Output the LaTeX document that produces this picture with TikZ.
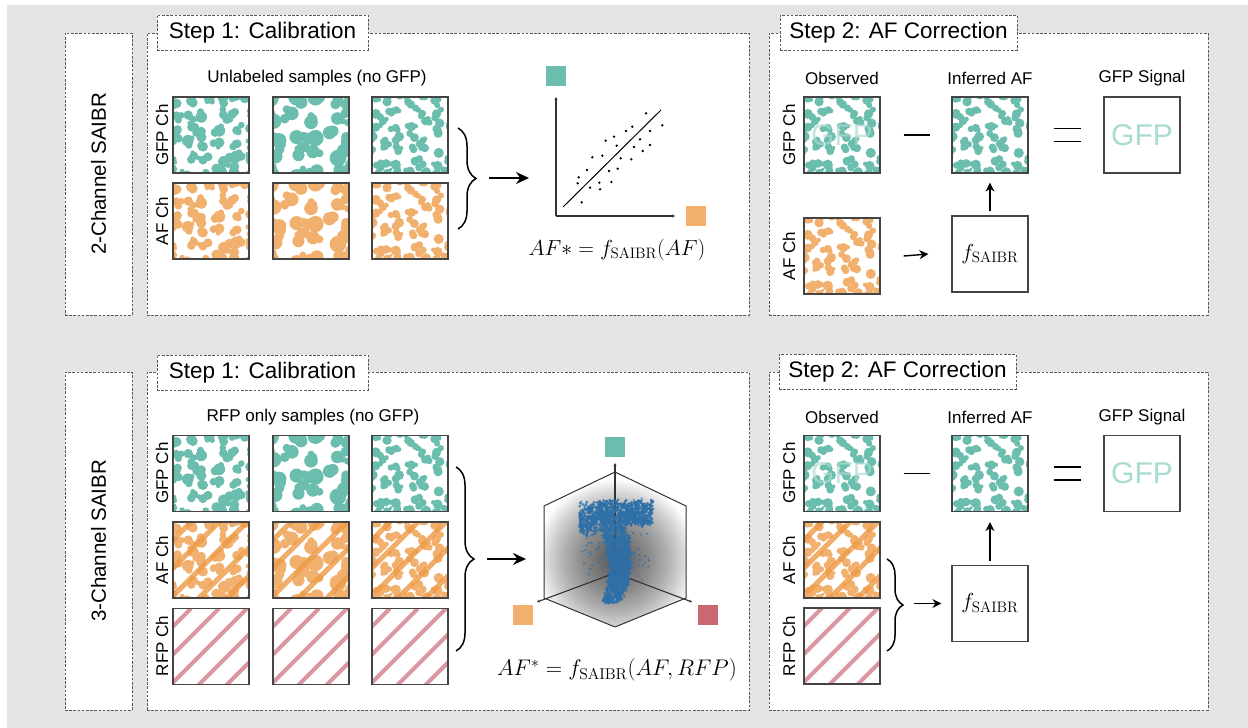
\documentclass[tikz,border=0pt]{standalone}
\usepackage[no-math]{fontspec}
\setmainfont{Liberation Sans}
\usetikzlibrary{decorations.pathreplacing,arrows.meta}

\definecolor{gfpc}{HTML}{6BBDAE}
\definecolor{afc}{HTML}{F2B06E}
\definecolor{afs}{HTML}{EE9A45}
\definecolor{rfpc}{HTML}{CC6670}
\definecolor{rfps}{HTML}{DB97A1}
\definecolor{ghost}{HTML}{A8DCD2}
\definecolor{bgc}{HTML}{E4E4E4}
\definecolor{dashc}{HTML}{5A5A5A}
\definecolor{framec}{HTML}{444444}
\definecolor{dotc}{HTML}{2D6FA8}
\definecolor{axc}{HTML}{333333}

% irregular cell blobs inside a 76pt tile
\newcommand{\cellblobs}[6]{% centre x, centre y, colour, seed, grid count, blob radius
  \begin{scope}
    \clip (#1-38,#2-38) rectangle (#1+38,#2+38);
    \pgfmathsetseed{#4}
    \pgfmathsetmacro{\bstep}{76/#5}
    \foreach \i in {0,...,#5}{
      \foreach \j in {0,...,#5}{
        \pgfmathsetmacro{\bx}{#1-38+(\i-0.15+0.6*rnd)*\bstep}
        \pgfmathsetmacro{\by}{#2-38+(\j-0.15+0.6*rnd)*\bstep}
        \pgfmathsetmacro{\ra}{#6*(0.75+0.4*rnd)}
        \pgfmathsetmacro{\rb}{#6*(0.55+0.4*rnd)}
        \pgfmathsetmacro{\rc}{#6*(0.4+0.3*rnd)}
        \pgfmathsetmacro{\dx}{1.1*#6*rand}
        \pgfmathsetmacro{\dy}{1.1*#6*rand}
        \pgfmathsetmacro{\ex}{1.0*#6*rand}
        \pgfmathsetmacro{\ey}{1.0*#6*rand}
        \fill[#3] (\bx,\by) circle[radius=\ra] (\bx+\dx,\by+\dy) circle[radius=\rb]
                  (\bx+\ex,\by+\ey) circle[radius=\rc];
      }
    }
  \end{scope}}

% diagonal stripes inside a 76pt tile
\newcommand{\diagstripes}[4]{% centre x, centre y, colour options, width
  \begin{scope}
    \clip (#1-38,#2-38) rectangle (#1+38,#2+38);
    \foreach \s in {18,46,...,158}{
      \draw[#3, line width=#4] (#1-38+\s,#2-38) -- ++(-100,100);
    }
  \end{scope}}

% faint channel text laid over an observed GFP tile
\newcommand{\ghosttext}[2]{%
  \node[text=gfpc!55!white, opacity=0.7, font=\fontsize{30}{30}\selectfont] at (#1,#2) {GFP};}

\begin{document}
\begin{tikzpicture}[x=1pt,y=-1pt,
  panel/.style={draw=dashc, dash pattern=on 2.6pt off 1.6pt, line width=0.9pt, fill=white, inner sep=0pt},
  titlebox/.style={panel, font=\fontsize{22.5}{27}\selectfont, minimum height=35pt, inner sep=0pt},
  tile/.style={draw=framec, line width=1.2pt, minimum size=76pt, inner sep=0pt},
  hdr/.style={font=\fontsize{17}{20}\selectfont},
  chlab/.style={font=\fontsize{17}{20}\selectfont, rotate=90},
  sidelab/.style={font=\fontsize{20.5}{24}\selectfont, rotate=90},
  eqn/.style={font=\fontsize{20.74}{25}\selectfont, scale=1.05},
  bigeqn/.style={font=\fontsize{20.74}{25}\selectfont, scale=1.05},
  widereqn/.style={font=\fontsize{20.74}{25}\selectfont, scale=1.09},
  bigarr/.style={-{Stealth[length=13pt,width=12pt]}, line width=2pt},
  smallarr/.style={-{Stealth[length=9pt,width=9pt]}, line width=1.4pt},
  curly/.style={decorate, decoration={brace, amplitude=18pt}, line width=1.5pt},
  axis/.style={draw=axc, line width=1.1pt, -{Stealth[length=3pt,width=3pt]}},
  swatch/.style={minimum size=20pt, inner sep=0pt},
  dot/.style={fill=black},
  pt3/.style={fill=dotc, opacity=0.85},
]
\useasboundingbox (0,0) rectangle (1248,728);
\fill[bgc] (7,5) rectangle (1248,728);

% ---------------- row frames ----------------
\node[panel, minimum width=67pt, minimum height=282pt] (side2) at (98.5,174) {};
\node[sidelab] at (side2.center) {2-Channel SAIBR};
\node[panel, minimum width=67pt, minimum height=338pt] (side3) at (98.5,541) {};
\node[sidelab] at (side3.center) {3-Channel SAIBR};

\node[panel, minimum width=602pt, minimum height=282pt] (cal2) at (448,174) {};
\node[panel, minimum width=439pt, minimum height=282pt] (cor2) at (988.5,174) {};
\node[panel, minimum width=602pt, minimum height=338pt] (cal3) at (448,541) {};
\node[panel, minimum width=439pt, minimum height=338pt] (cor3) at (988.5,541) {};

\node[titlebox, minimum width=211pt] (ttl1) at (262.5,32.5) {Step 1: Calibration};
\node[titlebox, minimum width=237pt] (ttl2) at (898.5,32.5) {Step 2: AF Correction};
\node[titlebox, minimum width=211pt] (ttl3) at (262.5,372.5) {Step 1: Calibration};
\node[titlebox, minimum width=237pt] (ttl4) at (897.5,371.5) {Step 2: AF Correction};

% ---------------- 2-channel calibration ----------------
\node[hdr] (hu) at (317,78) {Unlabeled samples (no GFP)};
\node[chlab] at (162,135) {GFP Ch};
\node[chlab] at (162,221) {AF Ch};

\cellblobs{211}{135}{gfpc}{11}{5}{5.4}
\cellblobs{211}{221}{afc}{11}{5}{5.4}
\cellblobs{311}{135}{gfpc}{23}{4}{7.4}
\cellblobs{311}{221}{afc}{23}{4}{7.4}
\cellblobs{410}{135}{gfpc}{37}{6}{4.5}
\cellblobs{410}{221}{afc}{37}{6}{4.5}
\node[tile] (a11) at (211,135) {};
\node[tile] (a21) at (211,221) {};
\node[tile] (a12) at (311,135) {};
\node[tile] (a22) at (311,221) {};
\node[tile] (a13) at (410,135) {};
\node[tile] (a23) at (410,221) {};

\coordinate (b1s) at (458,128);
\coordinate (b1e) at (458,229);
\draw[curly] (b1s) -- (b1e);
\coordinate (r1s) at (489,178);
\coordinate (r1e) at (529,178);
\draw[bigarr] (r1s) -- (r1e);

% scatter plot
\coordinate (o2d) at (556,216);
\coordinate (y2d) at (556,97);
\coordinate (x2d) at (675,216);
\draw[axis] (o2d) -- (y2d);
\draw[axis] (o2d) -- (x2d);
\node[swatch, fill=gfpc] (sqg1) at (556,76) {};
\node[swatch, fill=afc] (sqa1) at (695.5,216) {};
\coordinate (fitA) at (563,207);
\coordinate (fitB) at (661,110);
\draw[line width=1pt, black] (fitA) -- (fitB);
\foreach \p in {(646.0,113.3),(662.3,125.3),(632.3,126.7),(626.0,131.0),(650.0,131.0),
  (614.0,136.7),(605.7,140.7),(640.0,139.3),(616.7,145.7),(634.0,147.0),(650.0,145.0),
  (642.7,151.0),(592.3,157.3),(602.3,155.7),(620.7,158.3),(631.3,159.3),(587.0,170.0),
  (617.7,168.7),(609.0,171.0),(578.7,177.3),(577.7,183.3),(599.3,182.7),(611.3,182.0),
  (590.0,187.7),(600.0,189.3),(581.7,202.3)}
  \fill[dot] \p circle (1.3);
\node[bigeqn] (eq2) at (617,250) {$AF{*} = f_{\mathrm{SAIBR}}(AF)$};

% ---------------- 2-channel correction ----------------
\node[hdr] (hobs2) at (842,78) {Observed};
\node[hdr] (hinf2) at (990,78) {Inferred AF};
\node[hdr] (hsig2) at (1142,78) {GFP Signal};
\node[chlab] at (789,135) {GFP Ch};
\node[chlab] at (789,256) {AF Ch};

\cellblobs{842}{135}{gfpc}{37}{6}{4.5}
\ghosttext{842}{135}
\cellblobs{842}{256}{afc}{37}{6}{4.5}
\cellblobs{990}{135}{gfpc}{37}{6}{4.5}
\node[tile] (og2) at (842,135) {};
\node[tile] (oa2) at (842,256) {};
\node[tile] (inf2) at (990,135) {};
\node[tile, fill=white] (sig2) at (1142,135) {};
\node[text=ghost, font=\fontsize{30}{30}\selectfont] at (sig2.center) {GFP};
\node[tile, fill=white] (fs2) at (990,254) {};
\node[eqn] at (fs2.center) {$f_{\mathrm{SAIBR}}$};

\draw[line width=1.3pt] ([xshift=23pt]og2.east) -- ([xshift=-21pt]inf2.west);
\draw[line width=1.3pt] ([xshift=25pt,yshift=6.5pt]inf2.east) -- ([xshift=-22pt,yshift=6.5pt]sig2.west);
\draw[line width=1.3pt] ([xshift=25pt,yshift=-6.5pt]inf2.east) -- ([xshift=-22pt,yshift=-6.5pt]sig2.west);
\draw[smallarr] ([xshift=23pt]oa2.east) -- ([xshift=-23pt]fs2.west);
\draw[smallarr] ([yshift=4pt]fs2.north) -- ([yshift=-9pt]inf2.south);

% ---------------- 3-channel calibration ----------------
\node[hdr] (hr) at (313,417) {RFP only samples (no GFP)};
\node[chlab] at (162,473) {GFP Ch};
\node[chlab] at (162,560) {AF Ch};
\node[chlab] at (162,646) {RFP Ch};

\cellblobs{211}{473.5}{gfpc}{11}{5}{5.4}
\cellblobs{211}{560}{afc}{11}{5}{5.4}
\diagstripes{211}{560}{afs, opacity=0.8}{5pt}
\diagstripes{211}{646.5}{rfps}{4pt}
\cellblobs{311}{473.5}{gfpc}{23}{4}{7.4}
\cellblobs{311}{560}{afc}{23}{4}{7.4}
\diagstripes{311}{560}{afs, opacity=0.8}{5pt}
\diagstripes{311}{646.5}{rfps}{4pt}
\cellblobs{410}{473.5}{gfpc}{37}{6}{4.5}
\cellblobs{410}{560}{afc}{37}{6}{4.5}
\diagstripes{410}{560}{afs, opacity=0.8}{5pt}
\diagstripes{410}{646.5}{rfps}{4pt}
\node[tile] (c11) at (211,473.5) {};
\node[tile] (c21) at (211,560) {};
\node[tile] (c31) at (211,646.5) {};
\node[tile] (c12) at (311,473.5) {};
\node[tile] (c22) at (311,560) {};
\node[tile] (c32) at (311,646.5) {};
\node[tile] (c13) at (410,473.5) {};
\node[tile] (c23) at (410,560) {};
\node[tile] (c33) at (410,646.5) {};

\coordinate (b3s) at (456,467);
\coordinate (b3e) at (456,651);
\draw[curly] (b3s) -- (b3e);
\coordinate (r3s) at (487,559);
\coordinate (r3e) at (526,559);
\draw[bigarr] (r3s) -- (r3e);

% 3-D scatter box
\coordinate (hT) at (615,472);
\coordinate (hUL) at (544,506);
\coordinate (hLL) at (544,598);
\coordinate (hB) at (615,627);
\coordinate (hLR) at (686,598);
\coordinate (hUR) at (686,506);
\coordinate (hC) at (615,573);
\begin{scope}
  \clip (hT) -- (hUL) -- (hLL) -- (hB) -- (hLR) -- (hUR) -- cycle;
  % soft dark halo built from stacked translucent discs
  \foreach \r in {3,5.4,...,80}{
    \fill[black, opacity=0.028] (616,560) circle (\r);
  }
\end{scope}
\draw[axc, line width=1pt, line join=round] (hT) -- (hUL) -- (hLL) -- (hB) -- (hLR) -- (hUR) -- cycle;
\coordinate (axU) at (615,463);
\coordinate (axL) at (537,602);
\coordinate (axR) at (692,602);
\draw[axis] (hC) -- (axU);
\draw[axis] (hC) -- (axL);
\draw[axis] (hC) -- (axR);

% point cloud: a wide upper band and a slanted lower stem
\pgfmathsetseed{7}
\foreach \k in {1,...,900}{
  \pgfmathsetmacro{\px}{616+37*rand}
  \pgfmathsetmacro{\py}{513+11*rand+3*rand+ifthenelse(\px<598,12*rnd,0)}
  \fill[pt3] (\px,\py) circle (1.5);
}
\foreach \k in {1,...,1000}{
  \pgfmathsetmacro{\stt}{rnd}
  \pgfmathsetmacro{\py}{525+78*\stt}
  \pgfmathsetmacro{\cx}{611+36*\stt*(1-\stt)}
  \pgfmathsetmacro{\px}{\cx+(16-5*\stt)*0.8*rand+2*rand}
  \fill[pt3] (\px,\py) circle (1.5);
}
\foreach \k in {1,...,90}{
  \pgfmathsetmacro{\px}{615+34*rand}
  \pgfmathsetmacro{\py}{540+42*rand}
  \fill[pt3] (\px,\py) circle (1.1);
}

\node[swatch, fill=gfpc] (sqg3) at (614.5,447) {};
\node[swatch, fill=afc] (sqa3) at (523,615) {};
\node[swatch, fill=rfpc] (sqr3) at (708,615) {};
\node[widereqn] (eq3) at (617,670) {$AF^{*} = f_{\mathrm{SAIBR}}(AF,RFP)$};

% ---------------- 3-channel correction ----------------
\node[hdr] (hobs3) at (842,417) {Observed};
\node[hdr] (hinf3) at (990,417) {Inferred AF};
\node[hdr] (hsig3) at (1142,417) {GFP Signal};
\node[chlab] at (789,473) {GFP Ch};
\node[chlab] at (789,560) {AF Ch};
\node[chlab] at (789,646) {RFP Ch};

\cellblobs{842}{473.5}{gfpc}{37}{6}{4.5}
\ghosttext{842}{473.5}
\cellblobs{842}{560}{afc}{37}{6}{4.5}
\diagstripes{842}{560}{afs, opacity=0.8}{5pt}
\diagstripes{842}{646}{rfps}{4pt}
\cellblobs{990}{473.5}{gfpc}{37}{6}{4.5}
\node[tile] (og3) at (842,473.5) {};
\node[tile] (oa3) at (842,560) {};
\node[tile] (or3) at (842,646) {};
\node[tile] (inf3) at (990,473.5) {};
\node[tile, fill=white] (sig3) at (1142,473.5) {};
\node[text=ghost, font=\fontsize{30}{30}\selectfont] at (sig3.center) {GFP};
\node[tile, fill=white] (fs3) at (990,603.5) {};
\node[eqn] at (fs3.center) {$f_{\mathrm{SAIBR}}$};

\draw[line width=1.3pt] ([xshift=23pt]og3.east) -- ([xshift=-21pt]inf3.west);
\draw[line width=1.3pt] ([xshift=25pt,yshift=6.5pt]inf3.east) -- ([xshift=-22pt,yshift=6.5pt]sig3.west);
\draw[line width=1.3pt] ([xshift=25pt,yshift=-6.5pt]inf3.east) -- ([xshift=-22pt,yshift=-6.5pt]sig3.west);
\coordinate (b4s) at (887,559);
\coordinate (b4e) at (887,651);
\draw[curly, decoration={amplitude=16pt}] (b4s) -- (b4e);
\draw[smallarr] ([xshift=-37pt]fs3.west) -- ([xshift=-10pt]fs3.west);
\draw[smallarr] ([yshift=4pt]fs3.north) -- ([yshift=-10pt]inf3.south);
\end{tikzpicture}
\end{document}
